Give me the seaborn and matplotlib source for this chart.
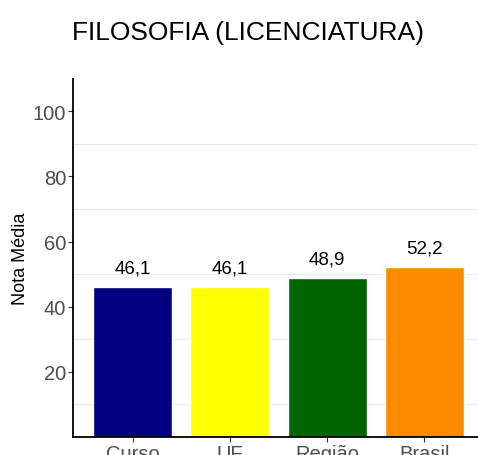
import pandas as pd
import seaborn as sns
import matplotlib.pyplot as plt

categorias = ['Curso', 'UF', 'Região', 'Brasil']
notas = [46.1, 46.1, 48.9, 52.2]
cores = ['#000080', '#FFFF00', '#006400', '#FF8C00']
rotulos = ['46,1', '46,1', '48,9', '52,2']

df = pd.DataFrame({'grupo': categorias, 'nota': notas})

sns.set_style('white')
plt.rcParams['font.family'] = ['Liberation Sans', 'DejaVu Sans']

fig = plt.figure(figsize=(4.78, 4.56), dpi=100)
ax = fig.add_axes([0.153, 0.0395, 0.847, 0.7855])

sns.barplot(x='grupo', y='nota', data=df, hue='grupo', palette=cores,
            legend=False, width=0.81, saturation=1, ax=ax)

for i, (v, t) in enumerate(zip(notas, rotulos)):
    ax.text(i, v + 3.2, t, ha='center', va='bottom', fontsize=13.5, color='black')

ax.set_ylim(0, 110)
ax.set_xlim(-0.61, 3.55)
ax.set_yticks([20, 40, 60, 80, 100])
ax.set_yticks([10, 30, 50, 70, 90], minor=True)
ax.grid(which='minor', axis='y', color='#ebebeb', linewidth=0.8)
ax.set_axisbelow(True)

for s in ['top', 'right']:
    ax.spines[s].set_visible(False)
for s in ['left', 'bottom']:
    ax.spines[s].set_color('black')
    ax.spines[s].set_linewidth(1.3)

ax.tick_params(axis='both', which='major', length=3.5, width=0.8, color='#333333',
               labelsize=14.5, labelcolor='#4d4d4d', left=True, bottom=True, pad=1.5)
ax.tick_params(axis='y', which='minor', length=0)
ax.set_xlabel('')
ax.set_ylabel('Nota Média', fontsize=13, color='black', labelpad=3)

fig.text(0.151, 0.928, 'FILOSOFIA (LICENCIATURA)', fontsize=19, ha='left',
         va='center', color='black')

plt.savefig('out.png', dpi=100)
